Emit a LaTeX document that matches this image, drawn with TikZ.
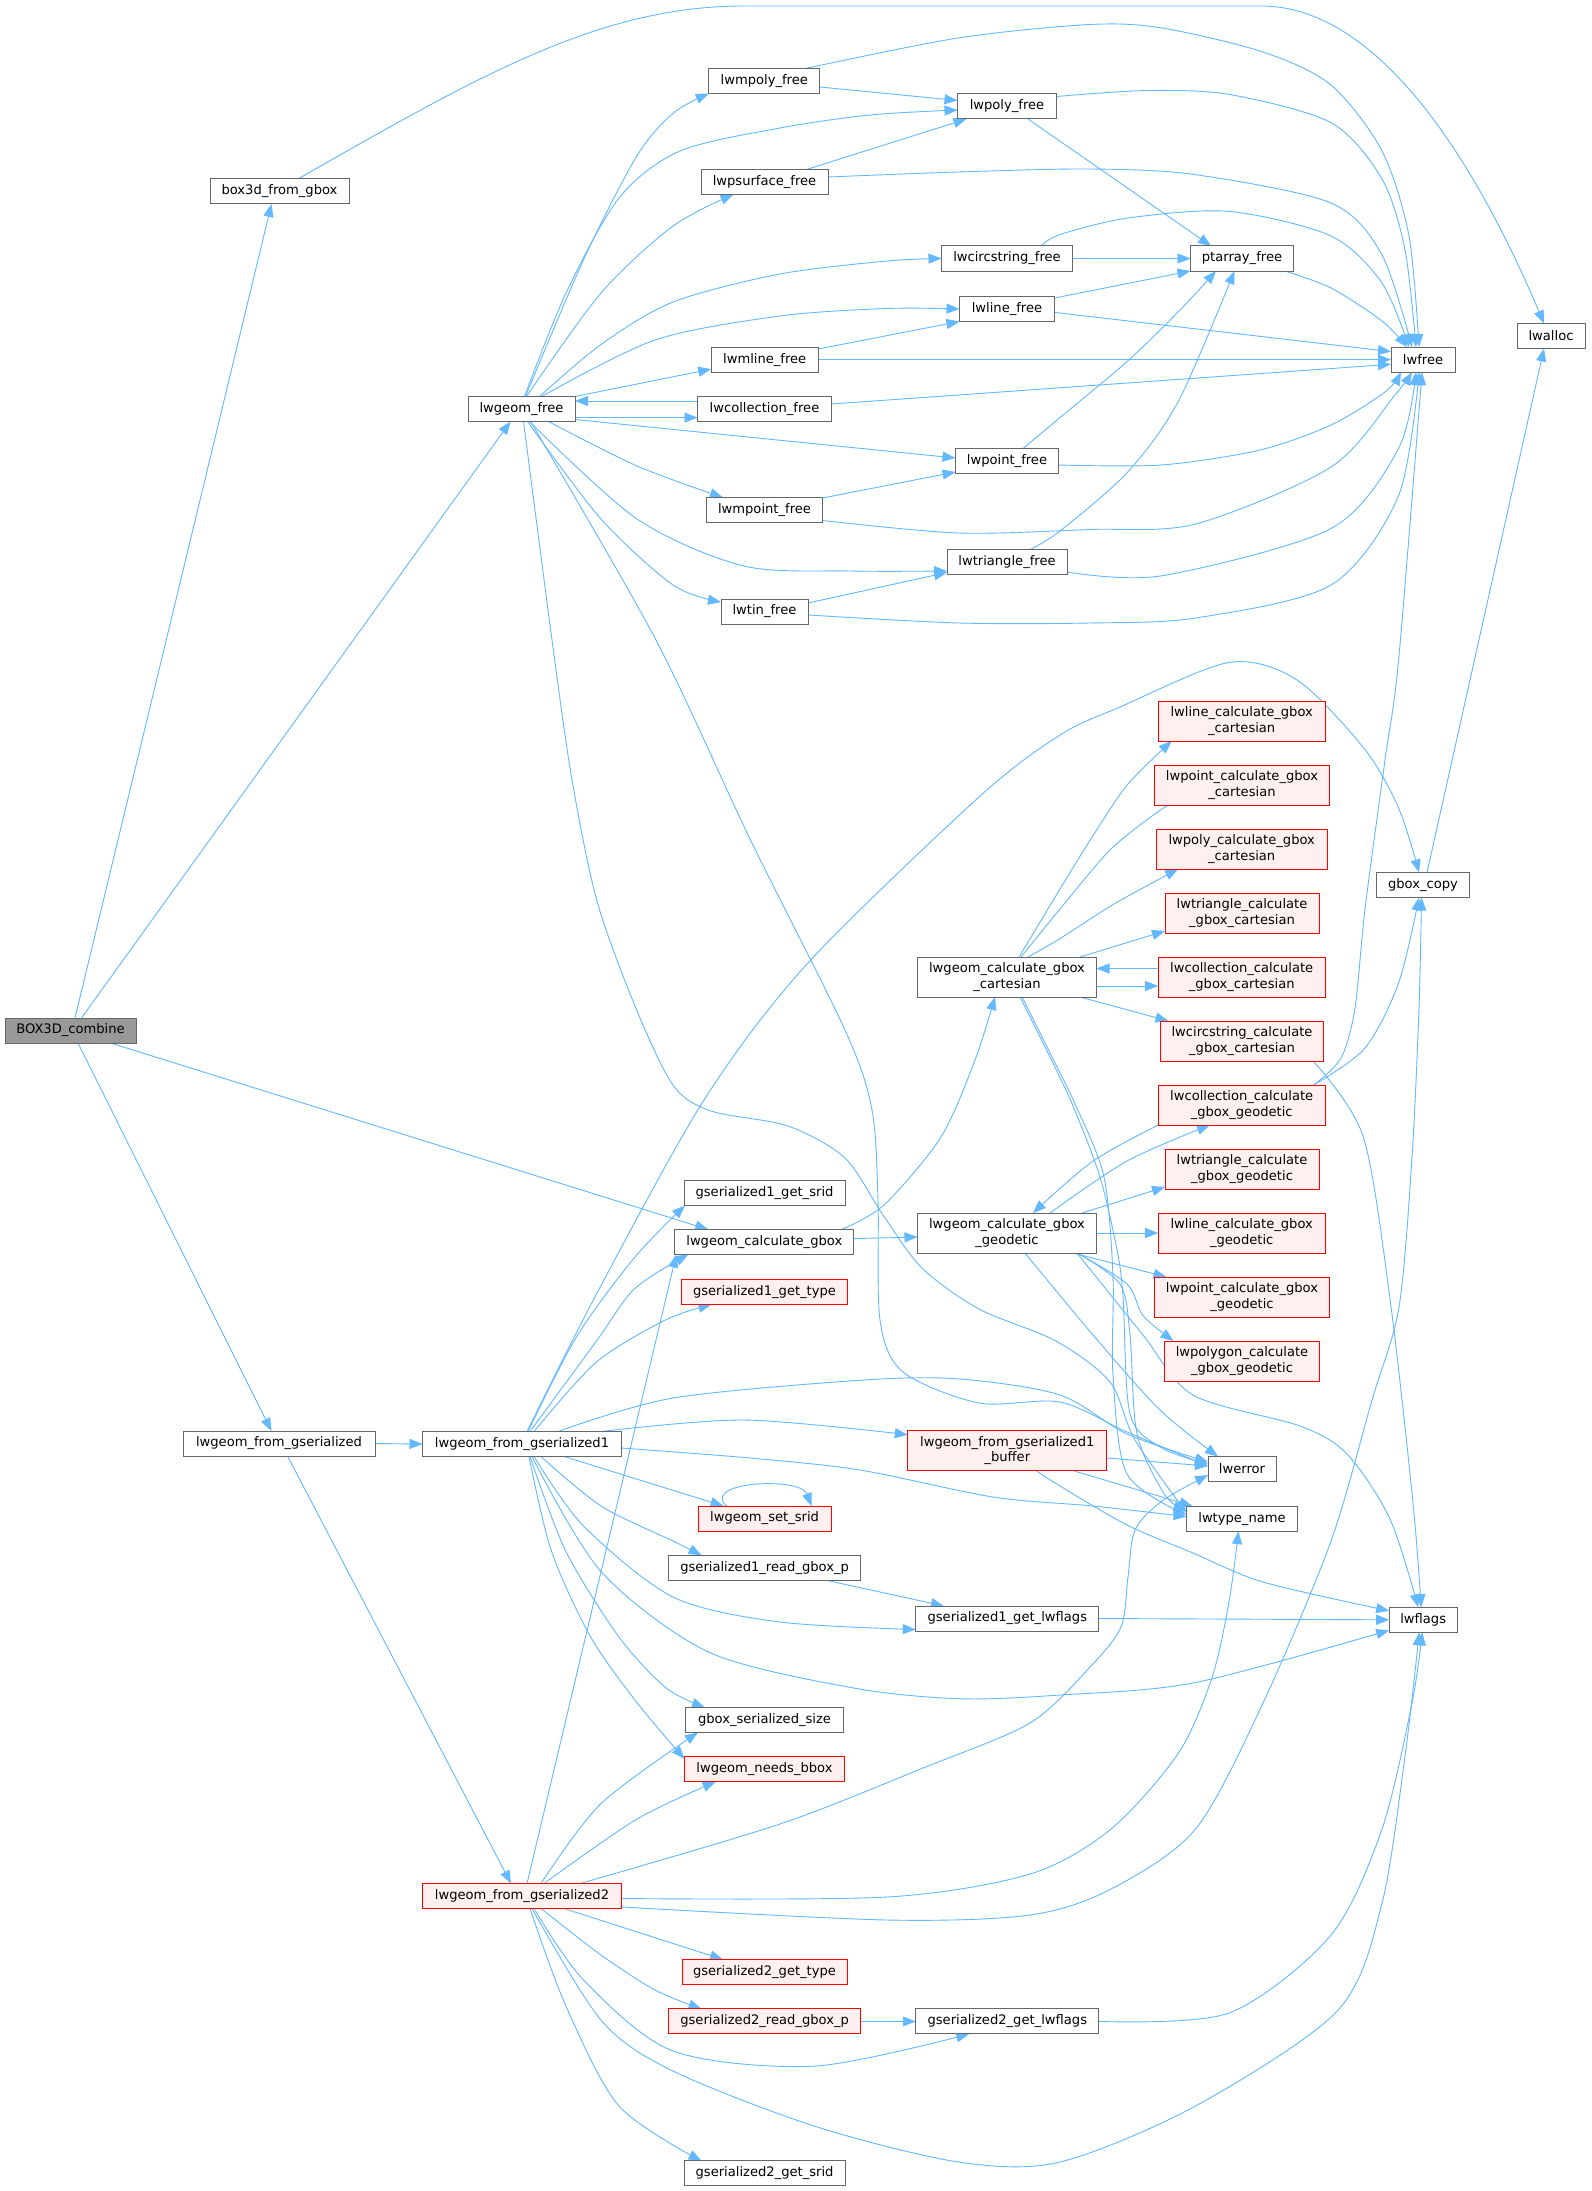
\documentclass[tikz,border=0pt]{standalone}
\usepackage{fontspec}
\setmainfont{DejaVu Sans}
\usetikzlibrary{arrows.meta,backgrounds}
\definecolor{edgec}{HTML}{63B8FF}
\definecolor{nodeb}{HTML}{666666}
\definecolor{redb}{HTML}{FF0000}
\definecolor{redf}{HTML}{FFF0F0}
\definecolor{grayf}{HTML}{999999}
\tikzset{
  fn/.style={draw=nodeb, line width=1pt, fill=white, inner sep=0pt, outer sep=0pt,
    minimum height=25pt, font=\fontsize{13.1pt}{15.4pt}\selectfont, text=black},
  fn2/.style={fn, minimum height=40pt, align=center},
  rd/.style={draw=redb, fill=redf},
  cl/.style={draw=edgec, line width=0.9pt, -{Triangle[length=13pt,width=10pt]}},
}
\begin{document}
\begin{tikzpicture}[x=1pt,y=-1pt]
\useasboundingbox (0,0) rectangle (1591,2191);
% ---------------- nodes ----------------
\node[fn, fill=grayf, minimum width=131pt] (BOX) at (70.5,1030.5) {BOX3D\_combine};
\node[fn, minimum width=139pt] (bgb) at (279.5,191.5) {box3d\_from\_gbox};
\node[fn, minimum width=107pt] (LF) at (521.5,409) {lwgeom\_free};
\node[fn, minimum width=192pt] (LGS) at (279,1443.5) {lwgeom\_from\_gserialized};
\node[fn, minimum width=199pt] (LG1) at (522,1444) {lwgeom\_from\_gserialized1};
\node[fn, rd, minimum width=199pt] (LG2) at (522,1896) {lwgeom\_from\_gserialized2};
\node[fn, minimum width=111pt] (mpoly) at (764.3,81) {lwmpoly\_free};
\node[fn, minimum width=99pt] (poly) at (1007,106.5) {lwpoly\_free};
\node[fn, minimum width=127pt] (psurf) at (764.5,182) {lwpsurface\_free};
\node[fn, minimum width=131pt] (circ) at (1007,258.5) {lwcircstring\_free};
\node[fn, minimum width=95pt] (line) at (1007,309) {lwline\_free};
\node[fn, minimum width=107pt] (mline) at (764.7,359.6) {lwmline\_free};
\node[fn, minimum width=134pt] (coll) at (764.5,409) {lwcollection\_free};
\node[fn, minimum width=103pt] (point) at (1007,461) {lwpoint\_free};
\node[fn, minimum width=116pt] (mpoint) at (764.5,510) {lwmpoint\_free};
\node[fn, minimum width=120pt] (tri) at (1007,562) {lwtriangle\_free};
\node[fn, minimum width=87pt] (tin) at (764.5,611.5) {lwtin\_free};
\node[fn, minimum width=103pt] (pta) at (1242,258.5) {ptarray\_free};
\node[fn, minimum width=64pt] (lwfree) at (1423,359.6) {lwfree};
\node[fn, minimum width=68pt] (lwalloc) at (1551,336) {lwalloc};
\node[fn2, rd, minimum width=167pt] (lcc1) at (1241.7,721) {lwline\_calculate\_gbox\\\_cartesian};
\node[fn2, rd, minimum width=175pt] (lcc2) at (1242,785) {lwpoint\_calculate\_gbox\\\_cartesian};
\node[fn2, rd, minimum width=171pt] (lcc3) at (1241.7,849) {lwpoly\_calculate\_gbox\\\_cartesian};
\node[fn2, rd, minimum width=154pt] (lcc4) at (1242,913) {lwtriangle\_calculate\\\_gbox\_cartesian};
\node[fn2, rd, minimum width=167pt] (lcc5) at (1241.7,977) {lwcollection\_calculate\\\_gbox\_cartesian};
\node[fn2, rd, minimum width=163pt] (lcc6) at (1242,1041) {lwcircstring\_calculate\\\_gbox\_cartesian};
\node[fn2, rd, minimum width=167pt] (lcg1) at (1241.7,1105) {lwcollection\_calculate\\\_gbox\_geodetic};
\node[fn2, rd, minimum width=154pt] (lcg2) at (1242,1169) {lwtriangle\_calculate\\\_gbox\_geodetic};
\node[fn2, rd, minimum width=167pt] (lcg3) at (1241.7,1233) {lwline\_calculate\_gbox\\\_geodetic};
\node[fn2, rd, minimum width=175pt] (lcg4) at (1242,1297) {lwpoint\_calculate\_gbox\\\_geodetic};
\node[fn2, rd, minimum width=155pt] (lcg5) at (1242,1361) {lwpolygon\_calculate\\\_gbox\_geodetic};
\node[fn, minimum width=93pt] (gbc) at (1423,885) {gbox\_copy};
\node[fn2, minimum width=179pt] (LCC) at (1007,977) {lwgeom\_calculate\_gbox\\\_cartesian};
\node[fn2, minimum width=179pt] (LGG) at (1007,1233) {lwgeom\_calculate\_gbox\\\_geodetic};
\node[fn, minimum width=161pt] (g1srid) at (764.5,1193) {gserialized1\_get\_srid};
\node[fn, minimum width=179pt] (LCG) at (764.3,1242) {lwgeom\_calculate\_gbox};
\node[fn, rd, minimum width=166pt] (g1type) at (764.5,1292) {gserialized1\_get\_type};
\node[fn2, rd, minimum width=199pt] (LG1B) at (1007.3,1450.7) {lwgeom\_from\_gserialized1\\\_buffer};
\node[fn, minimum width=68pt] (lwerror) at (1242,1469) {lwerror};
\node[fn, minimum width=111pt] (lwtype) at (1242,1518.6) {lwtype\_name};
\node[fn, rd, minimum width=133pt] (setsrid) at (764.6,1518.5) {lwgeom\_set\_srid};
\node[fn, minimum width=191.5pt] (g1read) at (764.6,1567.8) {gserialized1\_read\_gbox\_p};
\node[fn, minimum width=183pt] (g1flags) at (1007.3,1618.5) {gserialized1\_get\_lwflags};
\node[fn, minimum width=68pt] (lwflags) at (1423.2,1619.8) {lwflags};
\node[fn, minimum width=157.5pt] (gbss) at (764.5,1720) {gbox\_serialized\_size};
\node[fn, rd, minimum width=160pt] (needs) at (764.5,1769.3) {lwgeom\_needs\_bbox};
\node[fn, rd, minimum width=165pt] (g2type) at (764.5,1972) {gserialized2\_get\_type};
\node[fn, rd, minimum width=191.5pt] (g2read) at (764.6,2021.4) {gserialized2\_read\_gbox\_p};
\node[fn, minimum width=183pt] (g2flags) at (1007.3,2021.4) {gserialized2\_get\_lwflags};
\node[fn, minimum width=161pt] (g2srid) at (764.6,2173.4) {gserialized2\_get\_srid};
% ---------------- edges ----------------
\begin{scope}[on background layer]
\fill[white] (0,0) rectangle (1591,2191);
% BOX3D_combine
\draw[cl] ([xshift=4.5pt]BOX.north) -- ([xshift=-8pt]bgb.south);
\draw[cl] ([xshift=11pt]BOX.north) -- ([xshift=-11pt]LF.south);
\draw[cl] ([xshift=40pt]BOX.south) -- ([xshift=-56pt]LCG.north);
\draw[cl] ([xshift=7.5pt]BOX.south) -- ([xshift=-7.6pt]LGS.north);
% box3d_from_gbox
\draw[cl] ([xshift=18.5pt]bgb.north) .. controls (480,75) and (600,6) .. (744,6) -- (1263,6) .. controls (1400,8) and (1500,220) .. ([xshift=-7pt]lwalloc.north);
% lwgeom_free
\draw[cl] plot[smooth] coordinates {([xshift=4pt]LF.north) (583.6,259.6) (637,155.7) (673,113.3) (mpoly.south west)};
\draw[cl] plot[smooth] coordinates {([xshift=3pt]LF.north) (566,293) (619,198) (680,151) (780,128) (870,115) ([yshift=-3.5pt]poly.west)};
\draw[cl] plot[smooth] coordinates {([xshift=5pt]LF.north) (601,293) (673,226) ([xshift=-31pt]psurf.south)};
\draw[cl] plot[smooth] coordinates {([xshift=18pt]LF.north) (601,344.5) (673,302) (780,274) (887,261) (circ.west)};
\draw[cl] plot[smooth] coordinates {([xshift=20pt]LF.north) (655,340) (780,316) (887,308.5) (line.west)};
\draw[cl] (LF.north east) -- ([yshift=3pt]mline.south west);
\draw[cl] ([yshift=-8.6pt]LF.east) -- ([yshift=-8.6pt]coll.west);
\draw[cl] ([yshift=8pt]coll.west) -- ([yshift=8pt]LF.east);
\draw[cl] ([yshift=2pt]LF.south east) -- ([yshift=3pt]point.west);
\draw[cl] plot[smooth] coordinates {([xshift=27pt]LF.south) (637,466) ([xshift=-41.5pt]mpoint.north)};
\draw[cl] plot[smooth] coordinates {([xshift=8pt]LF.south) (637,519) (744,566) (851,571) ([yshift=-9pt]tri.west)};
\draw[cl] plot[smooth] coordinates {([xshift=6pt]LF.south) (601,519) (673,585) ([yshift=-3pt]tin.north west)};
\draw[cl] plot[smooth] coordinates {([xshift=9pt]LF.south) (656,640) (750,839) (845,1030) (872,1110) (878,1200) (880,1320) (903,1372) (979,1403) (1060,1402) (1127,1432) ([yshift=3pt]lwerror.west)};
\draw[cl] plot[smooth] coordinates {([xshift=2pt]LF.south) (552,640) (572,780) (597,901) (635,1006) (673,1085) (711,1111) (788,1126) (845,1158) (883,1215) (922,1268) (979,1309) (1056,1341) (1110,1382) (1135,1440) ([yshift=6pt]lwtype.west)};
% free functions
\draw[cl] ([yshift=-6pt]mpoly.east) -- ([yshift=6pt]poly.west);
\draw[cl] plot[smooth] coordinates {([xshift=41pt]mpoly.north) (958,38) (1090,24.5) (1162,28) (1263,52) (1331,85) (1382,151) (1409,236) ([xshift=-4pt]lwfree.north)};
\draw[cl] ([xshift=21pt]poly.south) -- ([xshift=-31pt]pta.north);
\draw[cl] plot[smooth] coordinates {([yshift=10pt]poly.east) (1145,90.6) (1229,94.4) (1331,122.7) (1382,179) (1405,250) ([xshift=-7pt]lwfree.north)};
\draw[cl] ([xshift=42pt]psurf.north) -- ([xshift=-40.5pt]poly.south);
\draw[cl] plot[smooth] coordinates {([yshift=5pt]psurf.east) (958,172) (1090,169) (1195,174.6) (1331,203) (1382,255) ([xshift=-11pt]lwfree.north)};
\draw[cl] (circ.east) -- (pta.west);
\draw[cl] plot[smooth] coordinates {([xshift=34pt]circ.north) (1060,234.5) (1128,218) (1229,211.4) (1331,236) (1382,283) ([xshift=-14pt]lwfree.north)};
\draw[cl] ([yshift=11pt]line.east) -- (pta.south west);
\draw[cl] ([yshift=-3.4pt]line.east) -- ([yshift=8pt]lwfree.west);
\draw[cl] ([yshift=10.6pt]mline.east) -- (line.south west);
\draw[cl] (mline.east) -- (lwfree.west);
\draw[cl] ([yshift=5pt]coll.east) -- ([yshift=-4.7pt]lwfree.west);
\draw[cl] plot[smooth] coordinates {([xshift=16pt]point.north) (1060,417.6) (1127.7,361) (1180,310) ([xshift=-26pt]pta.south)};
\draw[cl] plot[smooth] coordinates {([yshift=-4pt]point.east) (1161.6,465) (1260,450) (1331,425) (1385,392) ([xshift=-22pt]lwfree.south)};
\draw[cl] ([yshift=12pt]mpoint.east) -- ([yshift=-11pt]point.west);
\draw[cl] plot[smooth] coordinates {([yshift=-10.5pt]mpoint.east) (958.6,533) (1090,529.5) (1195.5,524) (1331,467) (1395,395) ([xshift=-11pt]lwfree.south)};
\draw[cl] plot[smooth] coordinates {([xshift=23pt]tri.north) (1060,531) (1127.7,472) (1178.5,401) ([xshift=-7.5pt]pta.south)};
\draw[cl] plot[smooth] coordinates {([yshift=-10pt]tri.east) (1161.6,575.8) (1331,528.5) (1398.6,448.3) ([xshift=-7pt]lwfree.south)};
\draw[cl] ([yshift=8.5pt]tin.east) -- ([yshift=2pt]tri.south west);
\draw[cl] plot[smooth] coordinates {([yshift=-3.5pt]tin.east) (958.6,623) (1090,623) (1195.5,618) (1331,585) (1398.6,495.5) ([xshift=-4pt]lwfree.south)};
\draw[cl] plot[smooth] coordinates {([xshift=43pt]pta.south) (1331,288) (1382,321) ([xshift=-16pt]lwfree.north)};
% geodetic collection
\draw[cl] plot[smooth] coordinates {([xshift=72pt]lcg1.north) (1341,1058) (1355,1008) (1365,909) (1385,760) (1398.6,660) ([xshift=-1pt]lwfree.south)};
\draw[cl] plot[smooth] coordinates {([xshift=72pt]lcg1.north) (1365,1048) (1398.6,983) ([xshift=-4pt]gbc.south)};
\draw[cl] plot[smooth] coordinates {(lcg1.south west) (1093,1161) ([xshift=26pt]LGG.north)};
\draw[cl] plot[smooth] coordinates {([xshift=43pt]LGG.north) (1127,1161) ([xshift=-31.7pt]lcg1.south)};
\draw[cl] ([xshift=75pt]LGG.north) -- ([yshift=2pt]lcg2.south west);
\draw[cl] (LGG.east) -- (lcg3.west);
\draw[cl] ([xshift=66pt]LGG.south) -- ([xshift=12pt]lcg4.north west);
\draw[cl] plot[smooth] coordinates {([xshift=70pt]LGG.south) (1127,1284) (1143,1315.6) ([xshift=9pt]lcg5.north west)};
\draw[cl] plot[smooth] coordinates {([xshift=18pt]LGG.south) (1093,1335) (1160,1410) ([xshift=-24pt]lwerror.north)};
\draw[cl] plot[smooth] coordinates {([xshift=70pt]LGG.south) (1120,1284) (1130,1335) (1137,1434) (1165,1495) ([yshift=8pt]lwtype.west)};
\draw[cl] plot[smooth] coordinates {([xshift=70pt]LGG.south) (1143,1335) (1193,1395) (1300,1426) (1347,1454) (1390,1519) ([xshift=-5pt]lwflags.north)};
% cartesian
\draw[cl] plot[smooth] coordinates {([xshift=12pt]LCC.north) (1060,889) (1094,834) (1128,784) ([xshift=-70pt]lcc1.south)};
\draw[cl] plot[smooth] coordinates {([xshift=14pt]LCC.north) (1060,909) (1111,849) (1162,809) ([xshift=-67pt]lcc2.south)};
\draw[cl] plot[smooth] coordinates {([xshift=21pt]LCC.north) (1060,938.6) (1114,904) ([xshift=-63.5pt]lcc3.south)};
\draw[cl] ([xshift=73pt]LCC.north) -- ([yshift=2pt]lcc4.south west);
\draw[cl] ([yshift=-9pt]LCC.east) -- ([yshift=-9pt]lcc5.west);
\draw[cl] ([yshift=8.5pt]lcc5.west) -- ([yshift=8.5pt]LCC.east);
\draw[cl] ([xshift=73pt]LCC.south) -- ([xshift=8pt]lcc6.north west);
\draw[cl] plot[smooth] coordinates {([xshift=13pt]LCC.south) (1047,1051) (1073,1106) (1100,1177) (1117,1250) (1123,1296) (1130,1414) (1162,1448) ([yshift=5pt]lwerror.west)};
\draw[cl] plot[smooth] coordinates {([xshift=15pt]LCC.south) (1049,1051) (1076,1106) (1104,1177) (1113,1276) (1113,1375) (1127,1474) ([yshift=4pt]lwtype.west)};
\draw[cl] plot[smooth] coordinates {([xshift=71pt]lcc6.south) (1363,1136) (1390,1299) (1413,1503) ([xshift=-2pt]lwflags.north)};
\draw[cl] ([xshift=4pt]gbc.north) -- ([xshift=-7pt]lwalloc.south);
% lwgeom_calculate_gbox
\draw[cl] plot[smooth] coordinates {([xshift=77pt]LCG.north) (884,1205) (941,1137) (975,1060) ([xshift=-12pt]LCC.south)};
\draw[cl] ([yshift=3.4pt]LCG.east) -- ([yshift=-4pt]LGG.west);
% lwgeom_from_gserialized1
\draw[cl] plot[smooth] coordinates {([xshift=5pt]LG1.north) (596.5,1294) (704,1100) (807,964) (979,797) (1060,735) (1120,707) (1229,662.5) (1297,680) (1365,749.6) (1399,809) ([xshift=-4pt]gbc.north)};
\draw[cl] plot[smooth] coordinates {([xshift=6pt]LG1.north) (577,1336) (635,1257) ([xshift=1pt]g1srid.south west)};
\draw[cl] plot[smooth] coordinates {([xshift=8pt]LG1.north) (596.5,1341) (634.8,1288.5) ([xshift=-76pt]LCG.south)};
\draw[cl] plot[smooth] coordinates {([xshift=12pt]LG1.north) (596.5,1362) (665.4,1320) ([xshift=-53pt]g1type.south)};
\draw[cl] plot[smooth] coordinates {([xshift=36pt]LG1.north) (673,1398) (864,1380) (960,1379) (1060,1395) (1127,1434) ([yshift=7pt]lwerror.west)};
\draw[cl] plot[smooth] coordinates {([xshift=79pt]LG1.north) (744,1420) ([yshift=-4pt]LG1B.north west)};
\draw[cl] plot[smooth] coordinates {([yshift=-4pt]LG1.east) (750,1458) (860,1470) (993,1497) (1093,1506) ([yshift=2pt]lwtype.west)};
\draw[cl] ([xshift=42pt]LG1.south) -- ([xshift=-41pt]setsrid.north);
\draw[cl] plot[smooth] coordinates {([xshift=19pt]LG1.south) (601,1506) (673,1541) ([xshift=-63pt]g1read.north)};
\draw[cl] plot[smooth] coordinates {([xshift=12pt]LG1.south) (583.6,1526) (673,1597) (780,1622) ([yshift=-11pt]g1flags.west)};
\draw[cl] plot[smooth] coordinates {([xshift=10pt]LG1.south) (601,1571.5) (708.6,1652) (851.4,1687.6) (958.6,1698.7) (1060,1695) (1195.5,1682.5) ([yshift=2pt]lwflags.south west)};
\draw[cl] plot[smooth] coordinates {([xshift=8pt]LG1.south) (565.7,1551) (619,1637) (665.7,1687.6) ([xshift=-59.5pt]gbss.north)};
\draw[cl] plot[smooth] coordinates {([xshift=7pt]LG1.south) (551.4,1551) (590.7,1637) (637,1702.7) ([yshift=-2pt]needs.north west)};
% lwgeom_from_gserialized2
\draw[cl] ([xshift=5pt]LG2.north) -- ([xshift=-88pt]LCG.south);
\draw[cl] plot[smooth] coordinates {([xshift=19pt]LG2.north) (601,1803.6) ([xshift=-66.6pt]gbss.south)};
\draw[cl] plot[smooth] coordinates {([xshift=22pt]LG2.north) (637,1819) ([xshift=-48.8pt]needs.south)};
\draw[cl] plot[smooth] coordinates {([xshift=58pt]LG2.north) (780,1824) (923,1768) (1030,1723) (1090,1667) (1121,1627) (1128,1577) (1135,1530) (1162,1501) ([yshift=-6pt]lwerror.west)};
\draw[cl] plot[smooth] coordinates {([yshift=-2.5pt]LG2.east) (887,1897) (1030,1874) (1111,1829) (1178.5,1753) (1212,1677.5) (1229,1602) ([xshift=-3.5pt]lwtype.south)};
\draw[cl] plot[smooth] coordinates {([yshift=-11pt]LG2.east) (887,1920) (1030,1915) (1111,1889) (1195.5,1829) (1263,1703) (1331,1541) (1372,1400) (1399,1307) (1412,1157.5) (1419,1008) ([xshift=-1.5pt]gbc.south)};
\draw[cl] ([xshift=42pt]LG2.south) -- ([xshift=-41.5pt]g2type.north);
\draw[cl] plot[smooth] coordinates {([xshift=19pt]LG2.south) (601,1955) (655,1990) ([xshift=-63pt]g2read.north)};
\draw[cl] plot[smooth] coordinates {([xshift=12pt]LG2.south) (583.6,1980) (673,2051) (815.7,2066) ([xshift=-38pt]g2flags.south)};
\draw[cl] plot[smooth] coordinates {([xshift=10pt]LG2.south) (601.4,2020.6) (673,2071) (815.7,2126.5) (958.6,2162) (1060,2162) (1195.5,2106) (1337.7,2010.5) (1381.7,1904.5) (1405.4,1753) ([xshift=-4pt]lwflags.south)};
\draw[cl] plot[smooth] coordinates {([xshift=8pt]LG2.south) (565.7,2005.5) (619,2106) ([xshift=-63pt]g2srid.north)};
% gserialized helpers
\draw[cl] (g2read.east) -- (g2flags.west);
\draw[cl] ([xshift=62pt]g1read.south) -- ([xshift=-63.3pt]g1flags.north);
\draw[cl] (g1flags.east) -- (lwflags.west);
\draw[cl] plot[smooth] coordinates {(g2flags.east) (1229,2013) (1331,1935) (1382,1829) (1412,1703) ([xshift=-1pt]lwflags.south)};
% buffer
\draw[cl] ([yshift=-7.3pt]LG1B.east) -- ([yshift=3pt]lwerror.west);
\draw[cl] ([xshift=66pt]LG1B.south) -- ([xshift=6pt]lwtype.north west);
\draw[cl] plot[smooth] coordinates {([xshift=29pt]LG1B.south) (1060,1486) (1127,1525) (1193,1553) (1263,1582) ([yshift=9pt]lwflags.west)};
% lwgeom_from_gserialized
\draw[cl] (LGS.east) -- (LG1.west);
\draw[cl] ([xshift=8.5pt]LGS.south) -- ([xshift=-11pt]LG2.north);
% self loop
\draw[cl] ([xshift=-38pt]setsrid.north) .. controls (700,1482) and (800,1476) .. ([xshift=47pt]setsrid.north);
\end{scope}
\end{tikzpicture}
\end{document}
